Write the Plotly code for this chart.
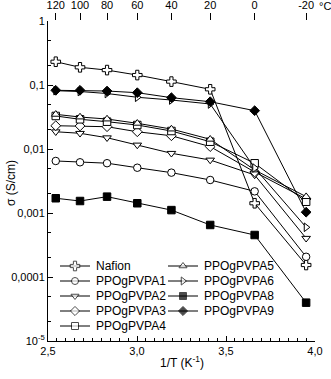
import plotly.graph_objects as go

temps_c = [120, 100, 80, 60, 40, 20, 0, -20]
inv_t = [1000.0 / (t + 273.15) for t in temps_c]

series_names = ["Nafion", "PPOgPVPA1", "PPOgPVPA2", "PPOgPVPA3", "PPOgPVPA4",
                "PPOgPVPA5", "PPOgPVPA6", "PPOgPVPA8", "PPOgPVPA9"]

nafion = [0.231, 0.189, 0.171, 0.143, 0.113, 0.0857, 0.00142, 0.000154]
ppva1 = [0.0065, 0.0062, 0.0060, 0.0051, 0.00427, 0.00328, 0.00218, 0.000207]
ppva2 = [0.0186, 0.0176, 0.0150, 0.01155, 0.00857, 0.00673, 0.00393, 0.000403]
ppva3 = [0.0231, 0.0229, 0.0223, 0.0186, 0.0161, 0.0109, 0.00437, 0.00166]
ppva4 = [0.0328, 0.0291, 0.0267, 0.0237, 0.0191, 0.0130, 0.00598, 0.00150]
ppva5 = [0.0348, 0.0316, 0.0294, 0.0252, 0.0205, 0.0142, 0.0047, 0.0018]
ppva6 = [0.0815, 0.0791, 0.0736, 0.0643, 0.0583, 0.0505, 0.00505, 0.000598]
ppva8 = [0.0017, 0.00154, 0.0018, 0.00142, 0.00111, 0.00065, 0.000453, 0.0000397]
ppva9 = [0.0826, 0.0826, 0.0805, 0.0758, 0.0634, 0.0548, 0.0397, 0.00103]

y_tickvals = [1e-5, 1e-4, 1e-3, 1e-2, 1e-1, 1]
y_ticktext = ["10<sup>-5</sup>", "0,0001", "0,001", "0,01", "0,1", "1"]

values = [nafion, ppva1, ppva2, ppva3, ppva4, ppva5, ppva6, ppva8, ppva9]
symbols = ["cross", "circle", "triangle-down", "diamond", "square",
           "triangle-up", "triangle-right", "square", "diamond"]
filled = [False, False, False, False, False, False, False, True, True]

# legend layout (pixel coordinates of the legend block, two columns)
leg_col = [0, 0, 0, 0, 0, 1, 1, 1, 1]
leg_row = [0, 1, 2, 3, 4, 0, 1, 2, 3]
leg_col_x = [60, 168]
leg_row_y0 = 266
leg_row_dy = 15
leg_line_len = 30

W, H = 331, 379
L, R, T, B = 48, 16, 21, 38
PW, PH = W - L - R, H - T - B

fig = go.Figure()
for name, vals, sym, fil in zip(series_names, values, symbols, filled):
    fig.add_trace(go.Scatter(
        x=inv_t, y=vals, name=name, mode="lines+markers",
        line=dict(color="black", width=1),
        marker=dict(symbol=sym, size=8 if sym == "cross" else 7.5,
                    color="black" if fil else "white",
                    line=dict(color="black", width=1)),
        showlegend=False,
    ))

# invisible trace to activate top axis
fig.add_trace(go.Scatter(x=inv_t, y=nafion, xaxis="x2", mode="markers",
                         marker=dict(opacity=0), showlegend=False, hoverinfo="skip"))

# legend drawn on an overlay subplot in pixel units
annotations = []
for name, sym, fil, c, r in zip(series_names, symbols, filled, leg_col, leg_row):
    x0 = leg_col_x[c]
    yy = leg_row_y0 + r * leg_row_dy
    fig.add_trace(go.Scatter(
        x=[x0, x0 + leg_line_len / 2, x0 + leg_line_len], y=[yy, yy, yy],
        xaxis="x3", yaxis="y3", mode="lines+markers",
        line=dict(color="black", width=1),
        marker=dict(symbol=sym, size=[0, 8 if sym == "cross" else 7, 0],
                    color="black" if fil else "white",
                    line=dict(color="black", width=[0, 1, 0])),
        showlegend=False, hoverinfo="skip"))
    annotations.append(dict(text=name, x=x0 + leg_line_len + 4, y=yy, xref="x3", yref="y3",
                            xanchor="left", yanchor="middle", showarrow=False,
                            font=dict(size=12)))

annotations.append(dict(text="°C", x=(325 - L) / PW, y=(H - B - 6) / PH,
                        xref="paper", yref="paper", xanchor="center", yanchor="middle",
                        showarrow=False, font=dict(size=11)))
annotations.append(dict(text="1/T (K<sup>-1</sup>)", x=0.5, y=(H - B - 362) / PH,
                        xref="paper", yref="paper", xanchor="center", yanchor="middle",
                        showarrow=False, font=dict(size=12)))
annotations.append(dict(text="σ (S/cm)", x=(11 - L) / PW, y=(H - B - 183) / PH,
                        xref="paper", yref="paper", xanchor="center", yanchor="middle",
                        textangle=-90, showarrow=False, font=dict(size=12)))

font = "Liberation Sans, Arial, sans-serif"
fig.update_layout(
    width=W, height=H,
    margin=dict(l=L, r=R, t=T, b=B),
    paper_bgcolor="white", plot_bgcolor="white",
    separators=",.",
    showlegend=False,
    font=dict(family=font, size=11, color="black"),
    xaxis=dict(range=[2.5, 4.0], dtick=0.5, tick0=2.5, tickformat=".1f",
               ticks="inside", ticklen=5, tickcolor="black", automargin=False,
               minor=dict(dtick=0.05, ticks="inside", ticklen=3, tickcolor="black"),
               showline=True, linecolor="black", linewidth=1, showgrid=False, zeroline=False,
               tickfont=dict(size=11)),
    xaxis2=dict(range=[2.5, 4.0], overlaying="x", side="top", tickmode="array",
                tickvals=inv_t, ticktext=[str(t) for t in temps_c], automargin=False,
                ticks="outside", ticklen=7, tickcolor="black", showline=False,
                showgrid=False, zeroline=False, tickfont=dict(size=11)),
    yaxis=dict(type="log", range=[-5, 0], tickmode="array", tickvals=y_tickvals,
               ticktext=y_ticktext, ticks="inside", ticklen=5, tickcolor="black",
               automargin=False,
               minor=dict(ticks="inside", ticklen=3, tickcolor="black", showgrid=False),
               showline=True, linecolor="black", linewidth=1, showgrid=False, zeroline=False,
               tickfont=dict(size=11)),
    xaxis3=dict(overlaying="x", anchor="y3", range=[L, W - R], visible=False,
                fixedrange=True, automargin=False),
    yaxis3=dict(overlaying="y", anchor="x3", range=[H - B, T], visible=False,
                fixedrange=True, automargin=False),
    annotations=annotations,
)

fig.write_html("out.html")
